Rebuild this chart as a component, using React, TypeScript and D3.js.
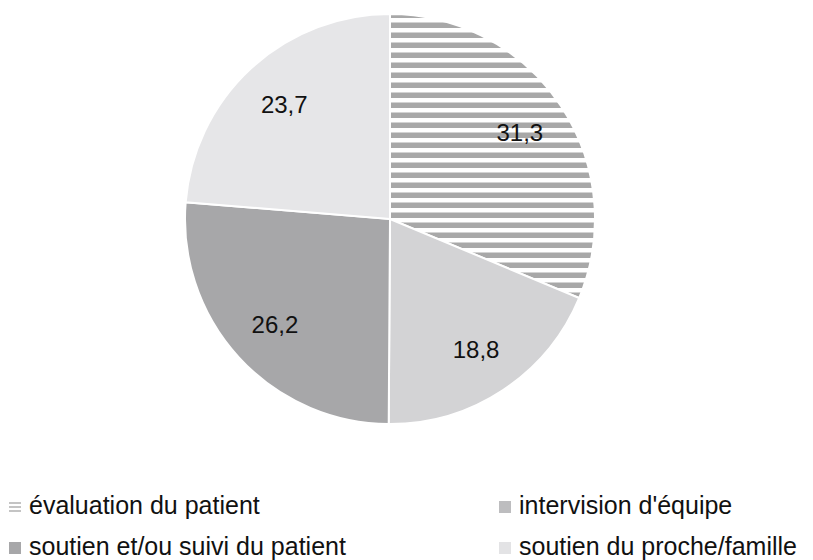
import React, { useEffect, useRef } from "react";
import * as d3 from "d3";

const categories = [
  "évaluation du patient",
  "intervision d'équipe",
  "soutien et/ou suivi du patient",
  "soutien du proche/famille",
];
const values = [31.3, 18.8, 26.2, 23.7];
const colors = ["url(#stripes)", "#d3d3d5", "#a7a7a9", "#e6e6e8"];
const legendColors = ["url(#stripesSmall)", "#bdbdbf", "#a7a7a9", "#e3e3e5"];

const App = () => {
  const ref = useRef<SVGSVGElement | null>(null);

  useEffect(() => {
    const width = 813;
    const height = 560;
    const cx = 390;
    const cy = 219;
    const radius = 205;
    const font = "'Liberation Sans', Arial, sans-serif";

    const svg = d3.select(ref.current);
    svg.selectAll("*").remove();
    svg.attr("width", width).attr("height", height);

    const defs = svg.append("defs");
    const pat = defs
      .append("pattern")
      .attr("id", "stripes")
      .attr("patternUnits", "userSpaceOnUse")
      .attr("width", 10)
      .attr("height", 10);
    pat.append("rect").attr("width", 10).attr("height", 10).attr("fill", "#fff");
    pat.append("rect").attr("y", 3.5).attr("width", 10).attr("height", 5.5).attr("fill", "#a8a8a8");

    const pat2 = defs
      .append("pattern")
      .attr("id", "stripesSmall")
      .attr("patternUnits", "userSpaceOnUse")
      .attr("width", 4)
      .attr("height", 4);
    pat2.append("rect").attr("width", 4).attr("height", 4).attr("fill", "#fff");
    pat2.append("rect").attr("y", 0).attr("width", 4).attr("height", 2).attr("fill", "#c4c4c4");

    const pie = d3.pie<number>().sort(null).value((d) => d);
    const arcs = pie(values);
    const arc = d3.arc<d3.PieArcDatum<number>>().innerRadius(0).outerRadius(radius);
    const labelArc = d3.arc<d3.PieArcDatum<number>>().innerRadius(156).outerRadius(156);

    const g = svg.append("g").attr("transform", `translate(${cx},${cy})`);

    g.selectAll("path")
      .data(arcs)
      .join("path")
      .attr("d", arc)
      .attr("fill", (d, i) => colors[i])
      .attr("stroke", "#fff")
      .attr("stroke-width", 2);

    g.selectAll("text")
      .data(arcs)
      .join("text")
      .attr("transform", (d) => `translate(${labelArc.centroid(d)})`)
      .attr("text-anchor", "middle")
      .attr("dy", "0.35em")
      .attr("font-family", font)
      .attr("font-size", 24)
      .attr("fill", "#111")
      .text((d) => String(d.data).replace(".", ","));

    // legende
    const legendX = [9, 499];
    const legendY = [514, 555];
    const leg = svg
      .append("g")
      .selectAll("g")
      .data(categories)
      .join("g")
      .attr("transform", (d, i) => `translate(${legendX[i % 2]},${legendY[Math.floor(i / 2)]})`);

    leg
      .append("rect")
      .attr("x", 0)
      .attr("y", -13)
      .attr("width", 12)
      .attr("height", 12)
      .attr("fill", (d, i) => legendColors[i]);

    leg
      .append("text")
      .attr("x", 20)
      .attr("font-family", font)
      .attr("font-size", 25)
      .attr("fill", "#111")
      .text((d) => d);
  }, []);

  return (
    <svg
      ref={ref}
      style={{ position: "absolute", left: 0, top: 0, display: "block" }}
    />
  );
};

export default App;
